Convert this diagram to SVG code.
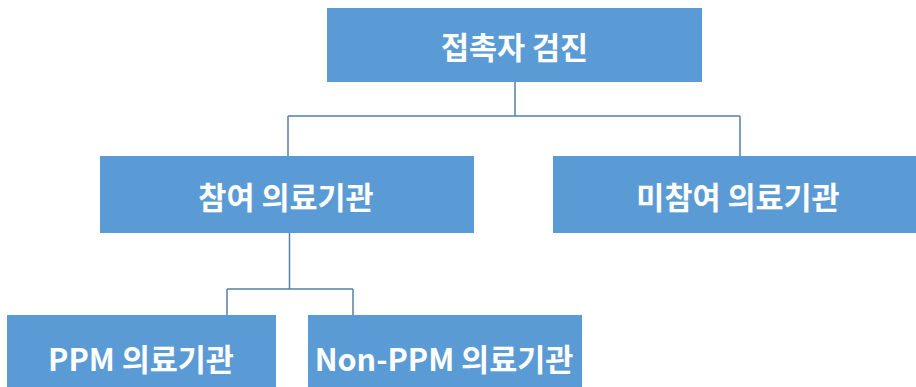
<svg xmlns="http://www.w3.org/2000/svg" width="916" height="387" viewBox="0 0 916 387">
<style>
.box{fill:#5B9BD5;}
.lbl{fill:#FFFFFF;font-family:"Noto Sans CJK KR","Noto Sans",sans-serif;font-weight:bold;font-size:30.5px;text-anchor:middle;dominant-baseline:central;}
.con{stroke:#5A7FA8;stroke-width:1.5;fill:none;}
</style>
<rect width="916" height="387" fill="#FFFFFF"/>
<g id="connectors">
<path class="con" d="M515 82 V116 M288 116 H740 M288 116 V156 M740 116 V156"/>
<path class="con" d="M289.5 233 V289 M227 289 H353 M227 289 V315 M353 289 V315"/>
</g>
<g id="n-root">
<rect class="box" x="327" y="8" width="375" height="74"/>
<text class="lbl" x="514.5" y="46">접촉자 검진</text>
</g>
<g id="n-participating">
<rect class="box" x="100" y="156" width="374" height="77"/>
<text class="lbl" x="286" y="196">참여 의료기관</text>
</g>
<g id="n-nonparticipating">
<rect class="box" x="553" y="156" width="363" height="77"/>
<text class="lbl" x="738" y="196">미참여 의료기관</text>
</g>
<g id="n-ppm">
<rect class="box" x="7" y="315" width="269" height="72"/>
<text class="lbl" x="141" y="358">PPM 의료기관</text>
</g>
<g id="n-nonppm">
<rect class="box" x="308" y="315" width="274" height="72"/>
<text class="lbl" x="444" y="358">Non-PPM 의료기관</text>
</g>
</svg>
